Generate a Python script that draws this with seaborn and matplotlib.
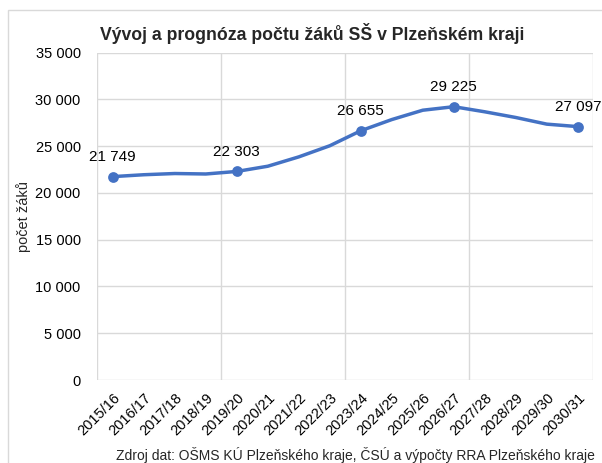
import numpy as np
import pandas as pd
import matplotlib
matplotlib.use('Agg')
import matplotlib.pyplot as plt
import seaborn as sns
from matplotlib.ticker import FuncFormatter, FixedLocator
from matplotlib.patches import Rectangle


# =============================================================================
# Data
# =============================================================================
years = ['2015/16', '2016/17', '2017/18', '2018/19', '2019/20', '2020/21',
         '2021/22', '2022/23', '2023/24', '2024/25', '2025/26', '2026/27',
         '2027/28', '2028/29', '2029/30', '2030/31']
pupils = [21749, 21950, 22080, 22030, 22303, 22860, 23860, 25050,
          26655, 27850, 28850, 29225, 28680, 28070, 27360, 27097]
labelled = ['2015/16', '2019/20', '2023/24', '2026/27', '2030/31']

title = 'Vývoj a prognóza počtu žáků SŠ v Plzeňském kraji'
ylabel = 'počet žáků'
source = 'Zdroj dat: OŠMS KÚ Plzeňského kraje, ČSÚ a výpočty RRA Plzeňského kraje'

df = pd.DataFrame({'rok': years, 'zaci': pupils})
df['x'] = np.arange(len(df))
pts = df[df['rok'].isin(labelled)]

# =============================================================================
# Plot
# =============================================================================
sns.set_style('white')
plt.rcParams['font.family'] = ['Liberation Sans', 'DejaVu Sans']

blue = '#4472C4'
grid = '#D9D9D9'

fig = plt.figure(figsize=(6.02, 4.63), dpi=100)
ax = fig.add_axes([97.3 / 602, 1 - 380 / 463, 496 / 602, (380 - 52.7) / 463])

sns.lineplot(data=df, x='x', y='zaci', ax=ax, color=blue, linewidth=2.5,
             solid_capstyle='round', solid_joinstyle='round', zorder=3)
sns.scatterplot(data=pts, x='x', y='zaci', ax=ax, color=blue, s=60,
                edgecolor=blue, linewidth=0, zorder=4)

for _, r in pts.iterrows():
    ax.annotate(f'{r.zaci:,.0f}'.replace(',', ' '), (r.x, r.zaci),
                xytext=(0, 9), textcoords='offset points',
                ha='center', va='bottom', fontsize=11, color='#000000')

ax.set_xlim(-0.5, len(years) - 0.5)
ax.set_ylim(0, 35000)
ax.set_yticks(np.arange(0, 35001, 5000))
ax.yaxis.set_major_formatter(FuncFormatter(lambda v, p: f'{v:,.0f}'.replace(',', ' ')))
ax.set_xticks(df['x'])
ax.set_xticklabels(years, rotation=45, ha='right', va='top',
                   rotation_mode='anchor')
ax.xaxis.set_minor_locator(FixedLocator([-0.5, 3.5, 7.5, 11.5, 15.5]))

ax.grid(False)
ax.grid(axis='y', which='major', color=grid, linewidth=1.0)
ax.grid(axis='x', which='minor', color=grid, linewidth=1.0)
ax.tick_params(axis='both', which='both', length=0, labelsize=10.5,
               colors='#000000')
ax.tick_params(axis='y', pad=12)
ax.tick_params(axis='x', pad=8)
for s in ax.spines.values():
    s.set_visible(False)

ax.set_xlabel('')
ax.set_ylabel(ylabel, fontsize=10.5, labelpad=3)

fig.text(0.5 * (102 + 523) / 602, 1 - 33 / 463, title, ha='center', va='center',
         fontsize=12.7, fontweight='bold')
fig.text(116 / 602, 1 - 455 / 463, source, ha='left', va='center',
         fontsize=10)

# chart area border
fig.patches.append(Rectangle((8 / 602, -0.1), 1.2, 1.1 - 10 / 463,
                             transform=fig.transFigure, fill=False,
                             edgecolor=grid, linewidth=1.0, zorder=0))

fig.savefig('out.png', dpi=100)
plt.close(fig)
